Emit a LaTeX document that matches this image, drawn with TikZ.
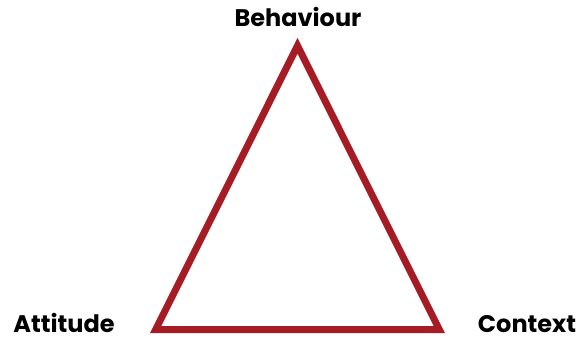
\documentclass[tikz,border=0pt]{standalone}
\usepackage{fontspec}
\setmainfont{Poppins}
\definecolor{trired}{RGB}{165,28,36}
\begin{document}
\begin{tikzpicture}[x=1pt,y=-1pt,
  lbl/.style={anchor=base,inner sep=0pt,font=\fontsize{24}{28}\selectfont\bfseries},
  edge/.style={draw=trired,line width=7pt,line join=miter}]
\useasboundingbox (0,0) rectangle (579,343);
\coordinate (top) at (297.5,45.8);
\coordinate (left) at (155.7,329.5);
\coordinate (right) at (439.3,329.5);
\draw[edge] (top) -- (left) -- (right) -- cycle;
\node[lbl] (b) at (298,26) {Behaviour};
\node[lbl] (a) at (64,332) {Attitude};
\node[lbl] (c) at (527,332) {Context};
\end{tikzpicture}
\end{document}
